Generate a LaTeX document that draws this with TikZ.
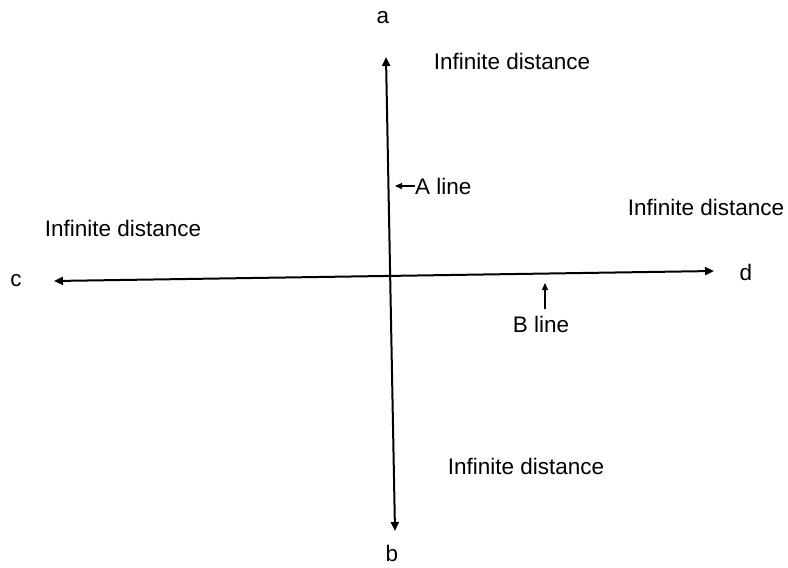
\documentclass[tikz,border=0pt]{standalone}
\usepackage{fontspec}
\setmainfont{Liberation Sans}
\usetikzlibrary{arrows.meta}
\begin{document}
\begin{tikzpicture}[x=1pt,y=-1pt,
  lbl/.style={inner sep=0pt,font=\fontsize{22.5}{26}\selectfont},
  axis/.style={line width=2pt,{Triangle[length=9pt,width=8pt]}-{Triangle[length=9pt,width=8pt]}},
  pointer/.style={line width=1.1pt,-{Triangle[length=7pt,width=6pt]}}]
\useasboundingbox (0,0) rectangle (788,568);
% axis end points
\coordinate (top) at (386,57);
\coordinate (bot) at (395,531);
\coordinate (left) at (54,281);
\coordinate (right) at (714,271);
\draw[axis] (top) -- (bot);
\draw[axis] (left) -- (right);
% end labels
\node[lbl] (la) at (383,18) {a};
\node[lbl] (lb) at (392,553) {b};
\node[lbl] (lc) at (16,281) {c};
\node[lbl] (ld) at (746,272) {d};
% infinite distance labels
\node[lbl] (i1) at (512,61) {Infinite distance};
\node[lbl] (i2) at (123,228) {Infinite distance};
\node[lbl] (i3) at (706,207) {Infinite distance};
\node[lbl] (i4) at (526,466) {Infinite distance};
% A line
\node[lbl,anchor=west] (al) at (415,186) {A line};
\coordinate (atip) at (395,186);
\draw[pointer] (al.west) -- (atip);
% B line
\node[lbl] (bl) at (541,324) {B line};
\coordinate (btip) at (545,283);
\coordinate (btail) at (545,309);
\draw[pointer] (btail) -- (btip);
\end{tikzpicture}
\end{document}
